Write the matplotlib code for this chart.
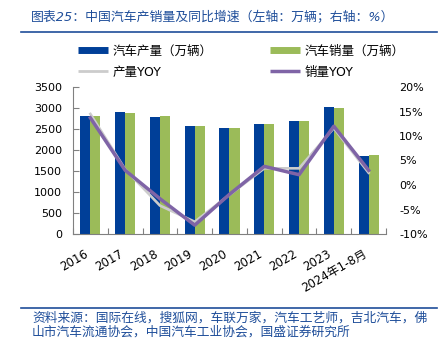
import matplotlib
matplotlib.use("Agg")
import matplotlib.pyplot as plt
from matplotlib.lines import Line2D
import numpy as np

plt.rcParams["font.family"] = ["DejaVu Sans", "Noto Sans CJK SC"]

# data
years = ["2016", "2017", "2018", "2019", "2020", "2021", "2022", "2023", "2024年1-8月"]
production = [2812, 2902, 2781, 2572, 2523, 2608, 2702, 3016, 1868]   # 万辆
sales = [2803, 2888, 2808, 2577, 2531, 2628, 2686, 3009, 1875]        # 万辆
prod_yoy = [14.5, 3.2, -4.2, -7.5, -2.0, 3.4, 3.4, 11.6, 2.5]         # %
sales_yoy = [13.7, 3.0, -2.8, -8.2, -1.9, 3.8, 2.1, 12.0, 3.0]        # %

left_ticks = [0, 500, 1000, 1500, 2000, 2500, 3000, 3500]
right_ticks = [-10, -5, 0, 5, 10, 15, 20]

BLUE = "#003F98"
GREEN = "#9BBB59"
GRAY_LINE = "#CCCCCC"
PURPLE = "#7F64A6"
TITLE_BLUE = "#1F4E9A"
CJK = ["DejaVu Sans", "Noto Sans CJK SC"]

W, H = 446, 341
fig = plt.figure(figsize=(W / 100, H / 100), dpi=100)
ax = fig.add_axes([73 / W, 1 - 234 / H, (386 - 73) / W, (234 - 87) / H])

x = np.arange(len(years))
bw = 0.29
ax.bar(x - bw / 2, production, width=bw, color=BLUE, zorder=2)
ax.bar(x + bw / 2, sales, width=bw, color=GREEN, zorder=2)

ax.set_xlim(-0.5, len(years) - 0.5)
ax.set_ylim(0, 3500)
ax.set_yticks(left_ticks)
ax.tick_params(axis="y", direction="in", length=4, width=0.8, color="#808080",
               pad=8, labelsize=8)
ax.set_xticks(x)
ax.set_xticklabels(years, rotation=30, ha="right", va="top", fontsize=8.5)
ax.tick_params(axis="x", which="major", length=0, pad=9.5)
ax.set_xticks(np.arange(-0.5, len(years)), minor=True)
ax.tick_params(axis="x", which="minor", direction="in", length=4, width=0.8,
               color="#808080")
for s in ["top", "right"]:
    ax.spines[s].set_visible(False)
for s in ["left", "bottom"]:
    ax.spines[s].set_color("#808080")
    ax.spines[s].set_linewidth(0.8)

ax2 = ax.twinx()
ax2.plot(x, np.array(prod_yoy) / 100, color=GRAY_LINE, lw=1.9, zorder=3)
ax2.plot(x, np.array(sales_yoy) / 100, color=PURPLE, lw=2.5, zorder=4)
ax2.set_ylim(-0.10, 0.20)
ax2.set_yticks(np.array(right_ticks) / 100)
ax2.set_yticklabels([f"{t}%" for t in right_ticks])
ax2.tick_params(axis="y", length=0, pad=9.5, labelsize=8)
for s in ax2.spines.values():
    s.set_visible(False)

# legend
handles = [
    Line2D([], [], color=BLUE, lw=5, solid_capstyle="butt"),
    Line2D([], [], color=GRAY_LINE, lw=2, solid_capstyle="butt"),
    Line2D([], [], color=GREEN, lw=5, solid_capstyle="butt"),
    Line2D([], [], color=PURPLE, lw=2.5, solid_capstyle="butt"),
]
labels = ["汽车产量（万辆）", "产量YOY", "汽车销量（万辆）", "销量YOY"]
fig.legend(handles, labels, ncol=2, loc="upper left",
           bbox_to_anchor=(78 / W, 1 - 44.5 / H), frameon=False,
           prop={"family": CJK, "size": 9}, handlelength=2.4,
           handletextpad=0.35, columnspacing=4.6, labelspacing=0.65,
           borderpad=0, borderaxespad=0)

# title and source
fig.text(31 / W, 1 - 18 / H, "图表25：中国汽车产销量及同比增速（左轴：万辆；右轴：%）",
         color=TITLE_BLUE, fontsize=9.3, style="italic", family=CJK,
         ha="left", va="center")
fig.add_artist(Line2D([21 / W, 437 / W], [1 - 31.5 / H, 1 - 31.5 / H],
                      color=TITLE_BLUE, lw=1.2))
fig.add_artist(Line2D([21 / W, 437 / W], [1 - 307.5 / H, 1 - 307.5 / H],
                      color=TITLE_BLUE, lw=1.2))
fig.text(32 / W, 1 - 318 / H,
         "资料来源：国际在线，搜狐网，车联万家，汽车工艺师，吉北汽车，佛",
         color=TITLE_BLUE, fontsize=9.2, style="italic", family=CJK,
         ha="left", va="center")
fig.text(32 / W, 1 - 332.5 / H,
         "山市汽车流通协会，中国汽车工业协会，国盛证券研究所",
         color=TITLE_BLUE, fontsize=9.2, style="italic", family=CJK,
         ha="left", va="center")

fig.savefig("out.png", dpi=100)
